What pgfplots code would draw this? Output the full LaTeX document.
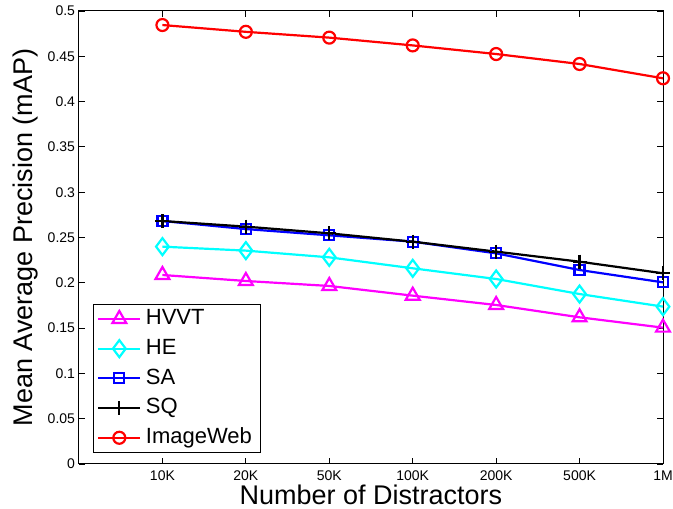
\documentclass[border=0pt]{standalone}
\usepackage{pgfplots}
\pgfplotsset{compat=1.18}
\usepackage{fontspec}
\setmainfont{Liberation Sans}
\definecolor{mmag}{rgb}{1,0,1}
\definecolor{mcyan}{rgb}{0,1,1}
\definecolor{mblue}{rgb}{0,0,1}
\definecolor{mred}{rgb}{1,0,0}
\newcommand\tkfont{\fontsize{14}{16}\selectfont}
\begin{document}
\begin{tikzpicture}
\begin{axis}[
  scale only axis, width=584pt, height=453pt,
  xmin=0, xmax=7, ymin=0, ymax=0.5,
  xtick={1,2,3,4,5,6,7},
  xticklabels={10K,20K,50K,100K,200K,500K,1M},
  ytick={0,0.05,0.1,0.15,0.2,0.25,0.3,0.35,0.4,0.45,0.5},
  yticklabel={\tkfont\pgfmathprintnumber[fixed,precision=2]{\tick}},
  /pgf/number format/assume math mode=true,
  tick align=inside, tick pos=both, major tick length=6pt,
  tick style={line width=0.8pt, black},
  axis line style={line width=1pt},
  xticklabel style={font=\tkfont, yshift=-3pt},
  yticklabel style={font=\tkfont, xshift=-0.5pt},
  xlabel={Number of Distractors},
  ylabel={Mean Average Precision (mAP)},
  label style={font=\fontsize{27}{32}\selectfont},
  xlabel style={at={(axis description cs:0.5,0)}, anchor=north, inner sep=0pt, yshift=-21pt},
  ylabel style={at={(axis description cs:-0.0788,0.5)}, anchor=base, inner sep=0pt, rotate=0},
  every axis plot/.append style={line width=2.2pt},
  legend cell align=left,
  legend image code/.code={
    \draw[mark repeat=2,mark phase=2] plot coordinates {(0pt,0pt) (21pt,0pt) (42pt,0pt)};
  },
  legend style={
    at={(0.0235,0.024)}, anchor=south west,
    font=\fontsize{22}{26}\selectfont,
    draw=black, line width=1pt,
    inner xsep=4pt, inner ysep=0pt,
    nodes={text height=16pt, text depth=4.6pt, inner ysep=4.55pt, inner xsep=4.5pt},
  },
]
\addplot[color=mmag, mark=triangle, mark size=8pt] coordinates {
 (1,0.2086) (2,0.2020) (3,0.1965) (4,0.1858) (5,0.1755) (6,0.1619) (7,0.1505)};
\addlegendentry{HVVT}
\addplot[color=mcyan, mark=diamond, mark size=8.5pt] coordinates {
 (1,0.2399) (2,0.2355) (3,0.2281) (4,0.2160) (5,0.2042) (6,0.1876) (7,0.1737)};
\addlegendentry{HE}
\addplot[color=mblue, mark=square, mark size=5pt] coordinates {
 (1,0.2682) (2,0.2593) (3,0.2524) (4,0.2454) (5,0.2325) (6,0.2141) (7,0.2005)};
\addlegendentry{SA}
\addplot[color=black, mark=+, mark size=7pt] coordinates {
 (1,0.2682) (2,0.2620) (3,0.2546) (4,0.2454) (5,0.2344) (6,0.2233) (7,0.2105)};
\addlegendentry{SQ}
\addplot[color=mred, mark=o, mark size=6pt] coordinates {
 (1,0.4845) (2,0.4770) (3,0.4706) (4,0.4620) (5,0.4525) (6,0.4415) (7,0.4257)};
\addlegendentry{ImageWeb}
\end{axis}
\pgfresetboundingbox
\path ([shift={(-79pt,-45pt)}]current axis.south west) rectangle ([shift={(10pt,11pt)}]current axis.north east);
\end{tikzpicture}
\end{document}
